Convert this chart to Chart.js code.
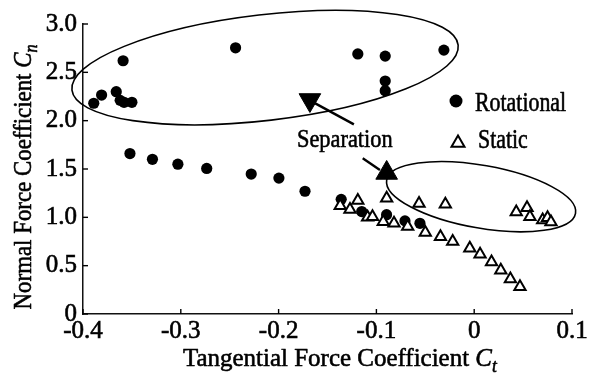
<!DOCTYPE html>
<html>
<head>
<meta charset="utf-8">
<script src="https://cdn.jsdelivr.net/npm/chart.js@4.4.1/dist/chart.umd.min.js"></script>
<style>
  html, body { margin: 0; padding: 0; background: #fff; }
  #grafico { display: block; }
</style>
</head>
<body>
<canvas id="grafico" width="597" height="381"></canvas>
<script>
// Rotational tests (filled circles)
const rotCt = [-0.389, -0.381, -0.366, -0.362, -0.358, -0.350, -0.359, -0.244,
               -0.119, -0.091, -0.031, -0.091, -0.091,
               -0.352, -0.329, -0.303, -0.2735, -0.228, -0.1997, -0.173,
               -0.136, -0.115, -0.0896, -0.0708, -0.0555];
const rotCn = [2.18, 2.265, 2.30, 2.21, 2.19, 2.19, 2.62, 2.754,
               2.69, 2.668, 2.73, 2.41, 2.31,
               1.66, 1.60, 1.55, 1.506, 1.448, 1.406, 1.27,
               1.186, 1.06, 1.027, 0.963, 0.938];

// Static tests (open triangles)
const staCt = [-0.137, -0.127, -0.119, -0.109, -0.104, -0.0895, -0.093, -0.082, -0.068,
               -0.0564, -0.050, -0.0345, -0.022, -0.0045, 0.006, 0.0177, 0.0272, 0.037, 0.0468,
               -0.0295, 0.043, 0.054, 0.057, 0.070, 0.075, 0.0785];
const staCn = [1.12, 1.08, 1.175, 1.0, 1.005, 1.197, 0.955, 0.94, 0.905,
               1.143, 0.842, 0.80, 0.75, 0.68, 0.618, 0.538, 0.452, 0.362, 0.283,
               1.135, 1.055, 1.098, 1.007, 0.973, 0.996, 0.953];

// separation points (big filled triangles)
const sepCt = [-0.168, -0.0895];
const sepCn = [2.214, 1.459];
const sepRot = [180, 0];

const xTicks = [-0.4, -0.3, -0.2, -0.1, 0, 0.1];
const yTicks = [0, 0.5, 1.0, 1.5, 2.0, 2.5, 3.0];

// groups circled on the plot: major axis ends + minor/major ratio
const contornos = [
    { x1: -0.4113, y1: 2.316, x2: -0.0164, y2: 2.782, ratio: 0.272 },
    { x1: -0.0895, y1: 1.386, x2: 0.1036, y2: 1.041, ratio: 0.327 }
];
// pointer lines from the "Separation" label
const flechas = [
    { x1: -0.163, y1: 2.182, x2: -0.123, y2: 1.962 },
    { x1: -0.114, y1: 1.610, x2: -0.0964, y2: 1.489 }
];

const SERIF = "'Liberation Serif', 'Times New Roman', serif";

function puntos(xs, ys) {
    return xs.map((x, i) => ({ x: x, y: ys[i] }));
}

// text with a narrower set-width and a light stroke, like the old typesetting
function texto(ctx, str, x, y, size, sx, italic) {
    ctx.save();
    ctx.font = (italic ? 'italic ' : '') + size + 'px ' + SERIF;
    ctx.translate(x, y);
    ctx.scale(sx, 1);
    ctx.lineWidth = 0.6;
    ctx.lineJoin = 'round';
    ctx.fillText(str, 0, 0);
    ctx.strokeText(str, 0, 0);
    const w = ctx.measureText(str).width * sx;
    ctx.restore();
    return w;
}

// "Label C_sub" with italic C and subscript
function etiqueta(ctx, base, sub, x, y, size, sx) {
    let cx = x;
    cx += texto(ctx, base, cx, y, size, sx, false);
    cx += texto(ctx, 'C', cx, y, size, sx, true);
    cx += texto(ctx, sub, cx, y + size * 0.22, size * 0.7, sx, true);
    return cx - x;
}

const overlay = {
    id: 'overlay',
    afterDatasetsDraw(chart) {
        const ctx = chart.ctx;
        const xs = chart.scales.x, ys = chart.scales.y;
        ctx.save();
        ctx.strokeStyle = '#000';

        ctx.lineWidth = 1.6;
        contornos.forEach(o => {
            const x1 = xs.getPixelForValue(o.x1), y1 = ys.getPixelForValue(o.y1);
            const x2 = xs.getPixelForValue(o.x2), y2 = ys.getPixelForValue(o.y2);
            const a = Math.hypot(x2 - x1, y2 - y1) / 2;
            ctx.beginPath();
            ctx.ellipse((x1 + x2) / 2, (y1 + y2) / 2, a, a * o.ratio, Math.atan2(y2 - y1, x2 - x1), 0, Math.PI * 2);
            ctx.stroke();
        });

        ctx.lineWidth = 2.4;
        flechas.forEach(f => {
            ctx.beginPath();
            ctx.moveTo(xs.getPixelForValue(f.x1), ys.getPixelForValue(f.y1));
            ctx.lineTo(xs.getPixelForValue(f.x2), ys.getPixelForValue(f.y2));
            ctx.stroke();
        });

        // inward tick marks
        ctx.lineWidth = 1.4;
        const area = chart.chartArea;
        xs.ticks.forEach(t => {
            const px = xs.getPixelForValue(t.value);
            ctx.beginPath();
            ctx.moveTo(px, area.bottom);
            ctx.lineTo(px, area.bottom - 5);
            ctx.stroke();
        });
        ys.ticks.forEach(t => {
            const py = ys.getPixelForValue(t.value);
            ctx.beginPath();
            ctx.moveTo(area.left, py);
            ctx.lineTo(area.left + 5, py);
            ctx.stroke();
        });
        ctx.restore();
    },
    afterDraw(chart) {
        const ctx = chart.ctx;
        ctx.save();
        ctx.fillStyle = '#000';
        ctx.strokeStyle = '#000';
        ctx.textBaseline = 'alphabetic';
        ctx.textAlign = 'left';

        // legend
        ctx.beginPath();
        ctx.arc(456, 101, 6.5, 0, Math.PI * 2);
        ctx.fill();
        texto(ctx, 'Rotational', 475, 111, 27, 0.81, false);

        ctx.lineWidth = 2;
        const r = 7.5, tx = 458, ty = 143;
        ctx.beginPath();
        ctx.moveTo(tx, ty - r);
        ctx.lineTo(tx + r * Math.sin(Math.PI * 2 / 3), ty + r / 2);
        ctx.lineTo(tx - r * Math.sin(Math.PI * 2 / 3), ty + r / 2);
        ctx.closePath();
        ctx.stroke();
        texto(ctx, 'Static', 478, 148, 27, 0.81, false);

        texto(ctx, 'Separation', 297, 147, 26, 0.86, false);

        // axis titles
        etiqueta(ctx, 'Tangential Force Coefficient ', 't', 183, 366, 26, 0.96);

        ctx.save();
        ctx.translate(31, 176);
        ctx.rotate(-Math.PI / 2);
        ctx.font = '26px ' + SERIF;
        const w = ctx.measureText('Normal Force Coefficient C').width * 0.88 + 10;
        etiqueta(ctx, 'Normal Force Coefficient ', 'n', -w / 2, 0, 26, 0.88);
        ctx.restore();

        ctx.restore();
    }
};

const ctx = document.getElementById('grafico').getContext('2d');
const grafico = new Chart(ctx, {
    type: 'scatter',
    data: {
        datasets: [
            {
                label: 'Separation',
                data: puntos(sepCt, sepCn),
                pointStyle: 'triangle',
                rotation: sepRot,
                pointRadius: 12.5,
                backgroundColor: '#000',
                borderColor: '#000',
                borderWidth: 1,
                order: 0
            },
            {
                label: 'Static',
                data: puntos(staCt, staCn),
                pointStyle: 'triangle',
                pointRadius: 6.5,
                backgroundColor: '#fff',
                borderColor: '#000',
                borderWidth: 2,
                order: 1
            },
            {
                label: 'Rotational',
                data: puntos(rotCt, rotCn),
                pointStyle: 'circle',
                pointRadius: 5.6,
                backgroundColor: '#000',
                borderColor: '#000',
                borderWidth: 0,
                order: 2
            }
        ]
    },
    options: {
        responsive: false,
        animation: false,
        layout: { padding: { top: 24, right: 25, left: 0, bottom: 0 } },
        plugins: {
            legend: { display: false },
            tooltip: { enabled: false }
        },
        scales: {
            x: {
                type: 'linear',
                min: -0.4,
                max: 0.1,
                afterBuildTicks: s => { s.ticks = xTicks.map(v => ({ value: v })); },
                afterFit: s => { s.height = 67; },
                grid: { display: false, drawTicks: false },
                border: { color: '#111', width: 1.5 },
                ticks: {
                    color: '#000',
                    padding: 2,
                    maxRotation: 0,
                    textStrokeColor: '#000',
                    textStrokeWidth: 0.6,
                    font: { family: SERIF, size: 25 },
                    callback: v => (Math.abs(v) < 1e-9 ? '0' : v.toFixed(1))
                }
            },
            y: {
                type: 'linear',
                min: 0,
                max: 3.0,
                afterBuildTicks: s => { s.ticks = yTicks.map(v => ({ value: v })); },
                afterFit: s => { s.width = 83; },
                grid: { display: false, drawTicks: false },
                border: { color: '#111', width: 1.5 },
                ticks: {
                    color: '#000',
                    padding: 6,
                    textStrokeColor: '#000',
                    textStrokeWidth: 0.6,
                    font: { family: SERIF, size: 25 },
                    callback: v => (Math.abs(v) < 1e-9 ? '0' : v.toFixed(1))
                }
            }
        }
    },
    plugins: [overlay]
});
</script>
</body>
</html>
